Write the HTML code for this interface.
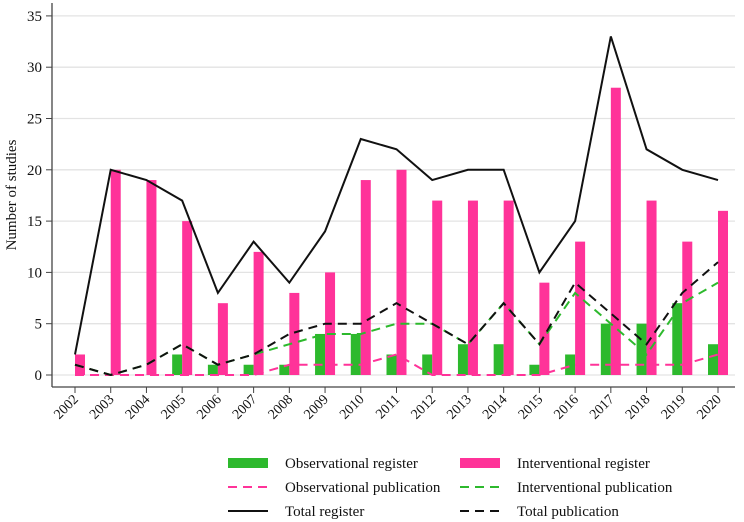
<!DOCTYPE html>
<html><head><meta charset="utf-8"><style>
body{margin:0;background:#fff;font-family:"Liberation Serif",serif;}
svg{display:block}
</style></head><body>
<svg id="c" width="744" height="522" xmlns="http://www.w3.org/2000/svg"></svg>
<script>
const years=[2002,2003,2004,2005,2006,2007,2008,2009,2010,2011,2012,2013,2014,2015,2016,2017,2018,2019,2020];
const obsReg=[0,0,0,2,1,1,1,4,4,2,2,3,3,1,2,5,5,7,3];
const intReg=[2,20,19,15,7,12,8,10,19,20,17,17,17,9,13,28,17,13,16];
const obsPub=[0,0,0,0,0,0,1,1,1,2,0,0,0,0,1,1,1,1,2];
const intPub=[1,0,1,3,1,2,3,4,4,5,5,3,7,3,8,5,2,7,9];
const totReg=[2,20,19,17,8,13,9,14,23,22,19,20,20,10,15,33,22,20,19];
const totPub=[1,0,1,3,1,2,4,5,5,7,5,3,7,3,9,6,3,8,11];
const yTicks=[0,5,10,15,20,25,30,35];

const svg=document.getElementById('c');const NS='http://www.w3.org/2000/svg';
function el(t,a,p){const e=document.createElementNS(NS,t);for(const k in a)e.setAttribute(k,a[k]);(p||svg).appendChild(e);return e;}
const x=i=>75+i*(718-75)/(years.length-1);
const y=v=>375-v*10.26;
// grid + y ticks
yTicks.forEach(t=>{
 const g=el('line',{x1:52,x2:735,y1:y(t),y2:y(t),stroke:'#e3e3e3','stroke-width':1.3});
 
 
 el('line',{x1:46,x2:52,y1:y(t),y2:y(t),stroke:'#444','stroke-width':1});
 const tx=el('text',{x:42,y:y(t)+5,'text-anchor':'end','font-size':15,fill:'#111'});tx.textContent=t;
 
 
});
// axes
const ya=el('line',{x1:52,x2:52,y1:3,y2:387,stroke:'#444','stroke-width':1.3});

const xa=el('line',{x1:52,x2:735,y1:387,y2:387,stroke:'#444','stroke-width':1.3});

const yt=el('text',{x:0,y:0,transform:'translate(16,195) rotate(-90)','text-anchor':'middle','font-size':15,fill:'#111'});yt.textContent='Number of studies';

years.forEach((yr,i)=>{
 el('line',{x1:x(i),x2:x(i),y1:387,y2:393,stroke:'#444','stroke-width':1});
 const t=el('text',{x:0,y:0,transform:`translate(${x(i)+4},${400}) rotate(-45)`,'text-anchor':'end','font-size':14,fill:'#111'});t.textContent=yr;
 
 if(obsReg[i]>0){const b=el('rect',{x:x(i)-10,y:y(obsReg[i]),width:10,height:y(0)-y(obsReg[i]),fill:'#2db92d'});
 }
 const p=el('rect',{x:x(i),y:y(intReg[i]),width:10,height:y(0)-y(intReg[i]),fill:'#ff3399'});
 
});
function line(arr,col,dash,name){
 const d=arr.map((v,i)=>(i?'L':'M')+x(i)+','+y(v)).join(' ');
 const l=el('path',{d:d,fill:'none',stroke:col,'stroke-width':2,'stroke-dasharray':dash||'none'});
 
}
line(obsPub,'#ff3399','9 6','line-observational-publication');
line(intPub,'#2db92d','9 6','line-interventional-publication');
line(totReg,'#111','','line-total-register');
line(totPub,'#111','9 6','line-total-publication');
// legend
const leg=[
 [228,463,'bar','#2db92d','Observational register'],[460,463,'bar','#ff3399','Interventional register'],
 [228,487,'dash','#ff3399','Observational publication'],[460,487,'dash','#2db92d','Interventional publication'],
 [228,511,'solid','#111','Total register'],[460,511,'dash','#111','Total publication']];
leg.forEach(l=>{
 const g=el('g',{});
 if(l[2]=='bar')el('rect',{x:l[0],y:l[1]-5,width:40,height:10,fill:l[3]},g);
 else el('line',{x1:l[0],x2:l[0]+40,y1:l[1],y2:l[1],stroke:l[3],'stroke-width':2,'stroke-dasharray':l[2]=='dash'?'9 6':'none'},g);
 const t=el('text',{x:l[0]+57,y:l[1]+5,'font-size':15,fill:'#111'},g);t.textContent=l[4];
});
</script>
</body></html>
